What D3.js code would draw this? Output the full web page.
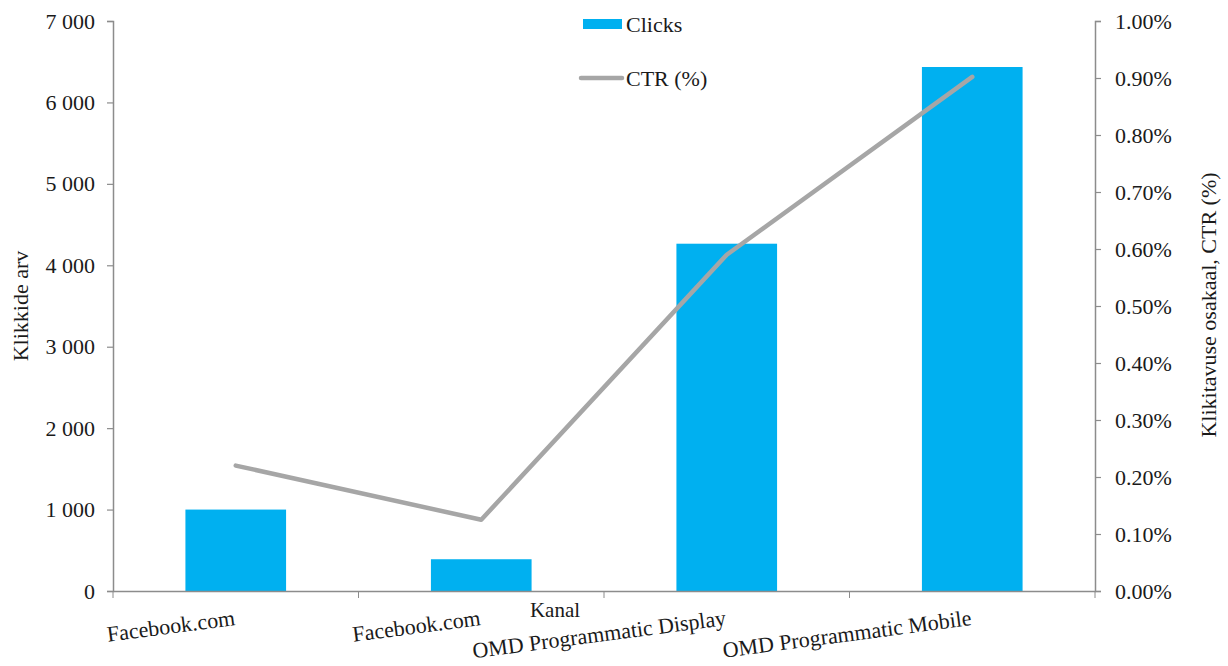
<!DOCTYPE html>
<html>
<head>
<meta charset="utf-8">
<script src="https://cdn.jsdelivr.net/npm/d3@7"></script>
<style>
  html, body { margin: 0; padding: 0; background: #fff; }
  svg text { font-family: "Liberation Serif", "Times New Roman", serif; fill: #1a1a1a; }
</style>
</head>
<body>
<svg id="chart" width="1228" height="666"></svg>
<script>
const categories = ["Facebook.com", "Facebook.com", "OMD Programmatic Display", "OMD Programmatic Mobile"];
const clicks = [1000, 390, 4265, 6435];
const ctr = [0.22, 0.125, 0.59, 0.902];
const leftTicks = [0, 1000, 2000, 3000, 4000, 5000, 6000, 7000];
const rightTicks = [0, 0.1, 0.2, 0.3, 0.4, 0.5, 0.6, 0.7, 0.8, 0.9, 1.0];
const seriesNames = ["Clicks", "CTR (%)"];
const axisTitles = { left: "Klikkide arv", right: "Klikitavuse osakaal, CTR (%)", bottom: "Kanal" };

const svg = d3.select("#chart");
const m = { left: 113, right: 1095, top: 21, bottom: 591 };
const axisColor = "#8c8c8c";
const fs = 22;

const x = d3.scaleBand().domain(d3.range(categories.length)).range([m.left, m.right]).paddingInner(0.59).paddingOuter(0.295);
const xTicks = d3.scaleBand().domain(d3.range(categories.length)).range([m.left, m.right]);
const yL = d3.scaleLinear().domain([0, 7000]).range([m.bottom, m.top]);
const yR = d3.scaleLinear().domain([0, 1.0]).range([m.bottom, m.top]);

// bars
svg.append("g").selectAll("rect").data(clicks).join("rect")
  .attr("x", (d, i) => x(i))
  .attr("y", d => yL(d))
  .attr("width", x.bandwidth())
  .attr("height", d => yL(0) - yL(d))
  .attr("fill", "#00b0f0");

// left axis
const fmtSpace = d => d3.format(",")(d).replace(/,/g, " ");
const gL = svg.append("g").attr("transform", `translate(${m.left},0)`)
  .call(d3.axisLeft(yL).tickValues(leftTicks).tickFormat(fmtSpace).tickSize(6).tickPadding(12));
gL.selectAll("text").style("font-size", fs + "px").attr("fill", "#1a1a1a");

// right axis
const gR = svg.append("g").attr("transform", `translate(${m.right},0)`)
  .call(d3.axisRight(yR).tickValues(rightTicks).tickFormat(d => d3.format(".2f")(d) + "%").tickSize(6).tickPadding(14));
gR.selectAll("text").style("font-size", fs + "px").attr("fill", "#1a1a1a");

// bottom axis
const gB = svg.append("g").attr("transform", `translate(0,${m.bottom})`)
  .call(d3.axisBottom(xTicks).tickValues([]).tickSizeOuter(0));
gB.selectAll("line.t").data([0, 1, 2, 3, 4]).join("line").attr("class", "t")
  .attr("x1", i => m.left + i * xTicks.step()).attr("x2", i => m.left + i * xTicks.step())
  .attr("y1", 0).attr("y2", 7).attr("stroke", axisColor);

[gL, gR, gB].forEach(g => {
  g.selectAll("path.domain").attr("stroke", axisColor).attr("stroke-width", 1.5);
  g.selectAll(".tick line").attr("stroke", axisColor).attr("stroke-width", 1.2);
});

// x labels
svg.append("g").selectAll("text").data(categories).join("text")
  .attr("transform", (d, i) => `translate(${x(i) + x.bandwidth() / 2},625) rotate(-7.5)`)
  .attr("text-anchor", "end")
  .style("font-size", fs + "px")
  .text(d => d);

// CTR line
svg.append("path")
  .datum(ctr)
  .attr("fill", "none")
  .attr("stroke", "#a6a6a6")
  .attr("stroke-width", 4.5)
  .attr("stroke-linejoin", "round")
  .attr("stroke-linecap", "round")
  .attr("d", d3.line().x((d, i) => x(i) + x.bandwidth() / 2).y(d => yR(d)));

// axis titles
svg.append("text").attr("transform", "translate(28,306) rotate(-90)")
  .attr("text-anchor", "middle").style("font-size", fs + "px").text(axisTitles.left);
svg.append("text").attr("transform", "translate(1216,305) rotate(-90)")
  .attr("text-anchor", "middle").style("font-size", fs + "px").text(axisTitles.right);
svg.append("text").attr("x", 555).attr("y", 617)
  .attr("text-anchor", "middle").style("font-size", "21px").text(axisTitles.bottom);

// legend
const lg = svg.append("g");
lg.append("rect").attr("x", 583).attr("y", 19).attr("width", 39).attr("height", 10).attr("fill", "#00b0f0");
lg.append("text").attr("x", 626).attr("y", 32).style("font-size", fs + "px").text(seriesNames[0]);
lg.append("line").attr("x1", 581).attr("x2", 622).attr("y1", 78).attr("y2", 78)
  .attr("stroke", "#a6a6a6").attr("stroke-width", 4.5).attr("stroke-linecap", "round");
lg.append("text").attr("x", 626).attr("y", 86).style("font-size", fs + "px").text(seriesNames[1]);
</script>
</body>
</html>
